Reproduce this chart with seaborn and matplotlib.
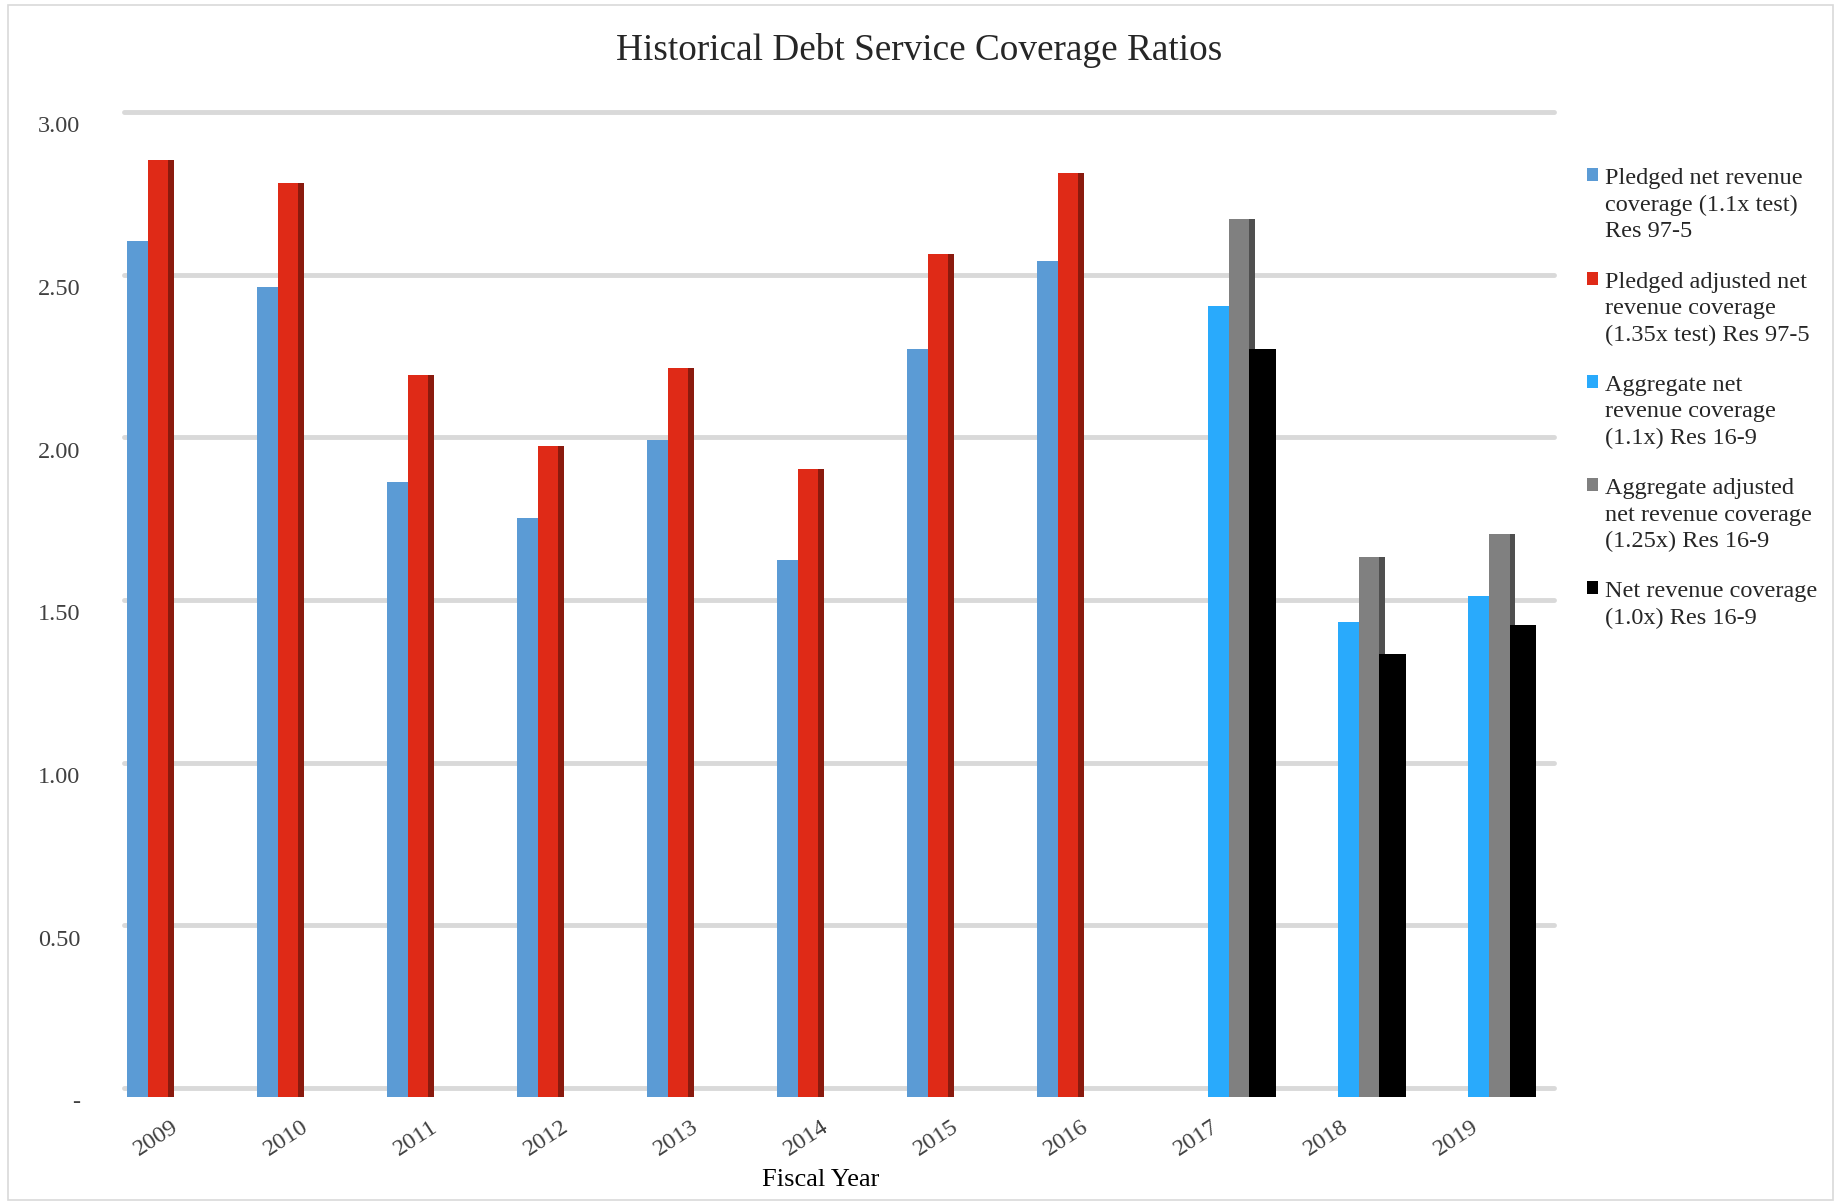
import matplotlib
matplotlib.use("Agg")
import matplotlib.pyplot as plt
import matplotlib.transforms as mtransforms
from matplotlib.patches import Rectangle, Patch
import numpy as np
import pandas as pd
import seaborn as sns

years = ["2009", "2010", "2011", "2012", "2013", "2014", "2015", "2016", "2017", "2018", "2019"]
series_names = [
    "Pledged net revenue\ncoverage (1.1x test)\nRes 97-5",
    "Pledged adjusted net\nrevenue coverage\n(1.35x test) Res 97-5",
    "Aggregate net\nrevenue coverage\n(1.1x) Res 16-9",
    "Aggregate adjusted\nnet revenue coverage\n(1.25x) Res 16-9",
    "Net revenue coverage\n(1.0x) Res 16-9",
]
pledged_net = [2.63, 2.49, 1.89, 1.78, 2.02, 1.65, 2.30, 2.57, None, None, None]
pledged_adj = [2.88, 2.81, 2.22, 2.00, 2.24, 1.93, 2.59, 2.84, None, None, None]
aggregate_net = [None, None, None, None, None, None, None, None, 2.43, 1.46, 1.54]
aggregate_adj = [None, None, None, None, None, None, None, None, 2.70, 1.66, 1.73]
net_revenue = [None, None, None, None, None, None, None, None, 2.30, 1.36, 1.45]
series_values = [pledged_net, pledged_adj, aggregate_net, aggregate_adj, net_revenue]
colors = ["#5b9bd5", "#df2a17", "#29aafc", "#808080", "#000000"]
y_ticks = [0, 0.5, 1.0, 1.5, 2.0, 2.5, 3.0]
y_tick_labels = ["-", "0.50", "1.00", "1.50", "2.00", "2.50", "3.00"]

rows = []
for name, vals in zip(series_names, series_values):
    for yr, v in zip(years, vals):
        if v is not None:
            rows.append({"Year": yr, "Series": name, "Value": v})
df = pd.DataFrame(rows)

sns.set_theme(style="white")
plt.rcParams["font.family"] = ["Liberation Serif", "DejaVu Serif"]
text_col = "#404040"

fig = plt.figure(figsize=(18.43, 12.02), dpi=100)
fig.patches.append(Rectangle((8 / 1843, 0.002), 1825 / 1843, 1 - 5 / 1202 - 0.002,
                             transform=fig.transFigure, fill=False,
                             edgecolor="#d9d9d9", linewidth=1.2, zorder=0))
ax = fig.add_axes([0.0616, 0.0874, 0.776, 0.812])

sns.barplot(data=df, x="Year", y="Value", hue="Series", order=years,
            hue_order=series_names, palette=colors, width=0.79,
            saturation=1, dodge=True, ax=ax, legend=False, zorder=3,
            linewidth=0, edgecolor="none")

# 3D-style side faces derived from each bar
for p in list(ax.patches):
    x0, y0 = p.get_x(), p.get_y()
    w, h = p.get_width(), p.get_height()
    if np.isnan(h) or h == 0:
        continue
    fc = np.array(p.get_facecolor()[:3])
    side = Rectangle((x0 + w, y0), w * 0.28, h, facecolor=tuple(fc * 0.62),
                     edgecolor="none", linewidth=0, zorder=2.5)
    ax.add_patch(side)

ax.set_xlim(-0.5, 10.5)
ax.set_ylim(0, 3.0)
ax.set_yticks(y_ticks)
ax.set_yticklabels(y_tick_labels)
ax.tick_params(axis="y", length=0, pad=24, labelsize=17.5, labelcolor=text_col)
ax.tick_params(axis="x", length=0, pad=14, labelsize=17.5, labelcolor=text_col)
xshift = mtransforms.ScaledTranslation(-0.08, 0, fig.dpi_scale_trans)
for lab in ax.get_xticklabels():
    lab.set_rotation(33)
    lab.set_ha("right")
    lab.set_va("top")
    lab.set_rotation_mode("anchor")
    lab.set_transform(lab.get_transform() + xshift)
yshift = mtransforms.ScaledTranslation(0, -0.035, fig.dpi_scale_trans)
for lab in ax.get_yticklabels():
    lab.set_transform(lab.get_transform() + yshift)

ax.grid(axis="y", color="#d9d9d9", linewidth=3.5, zorder=0)
ax.set_axisbelow(True)
shift = mtransforms.ScaledTranslation(0.1, 0.09, fig.dpi_scale_trans)
for gl in ax.get_ygridlines():
    gl.set_transform(gl.get_transform() + shift)
    gl.set_clip_on(False)
for s in ax.spines.values():
    s.set_visible(False)

ax.set_xlabel("")
ax.set_ylabel("")
fig.text(698 / 1568, 1 - 1004 / 1023, "Fiscal Year", ha="center", va="center",
         fontsize=19, color="#000000")
fig.text(782 / 1568, 1 - 43 / 1023, "Historical Debt Service Coverage Ratios",
         ha="center", va="center", fontsize=26.8, color="#262626")

handles = [Patch(facecolor=c, edgecolor="none") for c in colors]
leg = fig.legend(handles, series_names, loc="upper left",
                 bbox_to_anchor=(0.861, 0.860), frameon=False, fontsize=17.5,
                 handlelength=0.45, handleheight=0.45, handletextpad=0.3,
                 labelspacing=1.2, borderpad=0, borderaxespad=0)
for col in leg._legend_handle_box.get_children():
    for row in col.get_children():
        row.align = "top"
for t in leg.get_texts():
    t.set_color("#262626")
    t.set_linespacing(1.34)

fig.savefig("out.png", dpi=100)
